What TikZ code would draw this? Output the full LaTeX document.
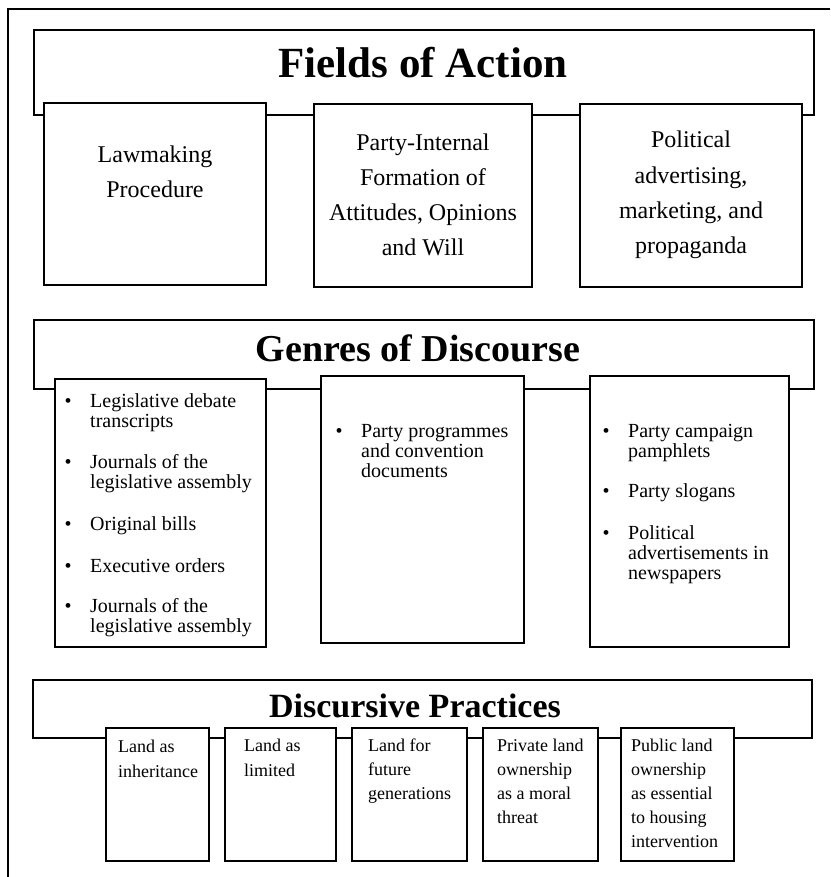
\documentclass[tikz,border=0pt]{standalone}
\usepackage{fontspec}
\setmainfont{Liberation Serif}
\usetikzlibrary{positioning}

\begin{document}
\begin{tikzpicture}[x=1pt,y=-1pt,
    frame/.style={line width=1.6pt},
    box/.style={draw,line width=1.6pt,fill=white,anchor=north west,outer sep=0pt,inner sep=0pt},
    headtxt/.style={anchor=base,inner sep=0pt,font=\bfseries\fontsize{#1}{#1}\selectfont},
    fieldtxt/.style={anchor=base,align=center,inner sep=0pt,font=\fontsize{24}{35}\selectfont},
    bul/.style={anchor=base,inner sep=0pt,font=\fontsize{20}{20}\selectfont},
    gentxt/.style={anchor=base west,align=left,inner sep=0pt,font=\fontsize{20}{20}\selectfont},
    disctxt/.style={anchor=base west,align=left,inner sep=0pt,font=\fontsize{18}{24.2}\selectfont}]
  \useasboundingbox (0,0) rectangle (830,877);
  % outer frame (cut at right and bottom)
  \draw[frame] (830,9) -- (8,9) -- (8,877);

  % Fields of Action
  % (multi-line text nodes sit on the baseline of their last line)
  \node[box,minimum width=780pt,minimum height=85pt] (fields) at (34,30) {};
  \node[headtxt=43] (fieldstitle) at (423,78) {Fields of Action};
  \node[box,minimum width=222pt,minimum height=182pt] (law) at (44,103) {};
  \node[box,minimum width=218pt,minimum height=183pt] (party) at (314,104) {};
  \node[box,minimum width=222pt,minimum height=183pt] (polit) at (580,104) {};
  \node[fieldtxt] (lawtxt) at (155,198) {Lawmaking\\Procedure};
  \node[fieldtxt] (partytxt) at (423,255) {Party-Internal\\Formation of\\Attitudes, Opinions\\and Will};
  \node[fieldtxt] (polittxt) at (691,253) {Political\\advertising,\\marketing, and\\propaganda};

  % Genres of Discourse
  \node[box,minimum width=780pt,minimum height=69pt] (genres) at (34,320) {};
  \node[headtxt=38] (genrestitle) at (418,361) {Genres of Discourse};
  \node[box,minimum width=211pt,minimum height=268pt] (genleg) at (55,379) {};
  \node[box,minimum width=203pt,minimum height=267pt] (genparty) at (321,376) {};
  \node[box,minimum width=199pt,minimum height=271pt] (genadv) at (590,376) {};
  %\foreach could do it, kept plain
  \node[bul] (b1) at (68,407) {•};
  \node[gentxt] (g1) at (90,427) {Legislative debate\\transcripts};
  \node[bul] (b2) at (68,468) {•};
  \node[gentxt] (g2) at (90,488) {Journals of the\\legislative assembly};
  \node[bul] (b3) at (68,530) {•};
  \node[gentxt] (g3) at (90,530) {Original bills};
  \node[bul] (b4) at (68,572) {•};
  \node[gentxt] (g4) at (90,572) {Executive orders};
  \node[bul] (b5) at (68,612) {•};
  \node[gentxt] (g5) at (90,632) {Journals of the\\legislative assembly};
  \node[bul] (b6) at (339,437) {•};
  \node[gentxt] (g6) at (361,477) {Party programmes\\and convention\\documents};
  \node[bul] (b7) at (606,437) {•};
  \node[gentxt] (g7) at (628,457) {Party campaign\\pamphlets};
  \node[bul] (b8) at (606,497) {•};
  \node[gentxt] (g8) at (628,497) {Party slogans};
  \node[bul] (b9) at (606,539) {•};
  \node[gentxt] (g9) at (628,579) {Political\\advertisements in\\newspapers};

  % Discursive Practices
  \node[box,minimum width=779pt,minimum height=58pt] (disc) at (33,680) {};
  \node[headtxt=34] (disctitle) at (415,717) {Discursive Practices};
  \node[box,minimum width=103pt,minimum height=133pt] (inherit) at (106,728) {};
  \node[box,minimum width=111pt,minimum height=133pt] (limited) at (225,728) {};
  \node[box,minimum width=115pt,minimum height=133pt] (future) at (352,728) {};
  \node[box,minimum width=115pt,minimum height=133pt] (private) at (483,728) {};
  \node[box,minimum width=113pt,minimum height=133pt] (public) at (621,728) {};
  \node[disctxt] (inherittxt) at (118,777) {Land as\\inheritance};
  \node[disctxt] (limitedtxt) at (244,776) {Land as\\limited};
  \node[disctxt] (futuretxt) at (368,799.4) {Land for\\future\\generations};
  \node[disctxt] (privatetxt) at (497,823.6) {Private land\\ownership\\as a moral\\threat};
  \node[disctxt] (publictxt) at (631,847.8) {Public land\\ownership\\as essential\\to housing\\intervention};
\end{tikzpicture}
\end{document}
